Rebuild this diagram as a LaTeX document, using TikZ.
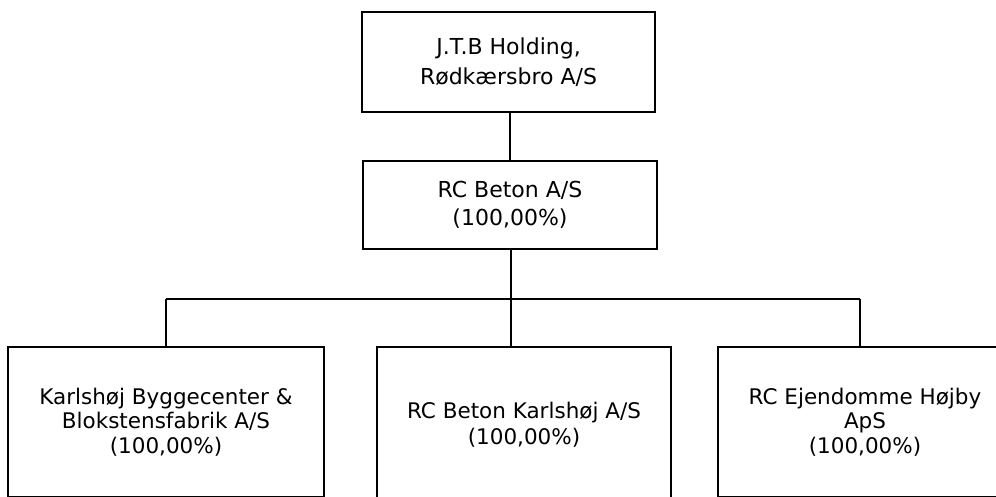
\documentclass[tikz,border=0pt]{standalone}
\usepackage{fontspec}
\setmainfont{DejaVu Sans}
\begin{document}
\begin{tikzpicture}[x=1pt,y=-1pt,
  orgbox/.style={draw=black,line width=1.5pt,rectangle,align=center,inner sep=0pt,text=black},
  link/.style={draw=black,line width=1.5pt}]
\useasboundingbox (0,0) rectangle (996,496);
\clip (0,0) rectangle (996,496);
\fill[white] (0,0) rectangle (996,496);
\node[orgbox,minimum width=293pt,minimum height=100pt,font=\fontsize{22}{30}\selectfont] (top) at (508.5,62) {J.T.B Holding,\\Rødkærsbro A/S};
\node[orgbox,minimum width=294pt,minimum height=88pt,font=\fontsize{22}{28}\selectfont] (mid) at (510,205) {RC Beton A/S\\(100,00\%)};
\node[orgbox,minimum width=316pt,minimum height=150pt,font=\fontsize{21.5}{24.5}\selectfont] (b1) at (166,422) {Karlshøj Byggecenter \&\\Blokstensfabrik A/S\\(100,00\%)};
\node[orgbox,minimum width=294pt,minimum height=156pt,font=\fontsize{21.5}{26}\selectfont] (b2) at (524,425) {RC Beton Karlshøj A/S\\(100,00\%)};
\node[orgbox,minimum width=294pt,minimum height=150pt,font=\fontsize{21.5}{24.5}\selectfont] (b3) at (865,422) {RC Ejendomme Højby\\ApS\\(100,00\%)};
\coordinate (jl) at (166,299);
\coordinate (jr) at (860,299);
\coordinate (jm) at (511,299);
\draw[link] (top.south -| mid.north) -- (mid.north);
\draw[link] (mid.south -| jm) -- (jm);
\draw[link] (jl) -- (jr);
\draw[link] (jl) -- (jl |- b1.north);
\draw[link] (jm) -- (jm |- b2.north);
\draw[link] (jr) -- (jr |- b3.north);
\end{tikzpicture}
\end{document}
